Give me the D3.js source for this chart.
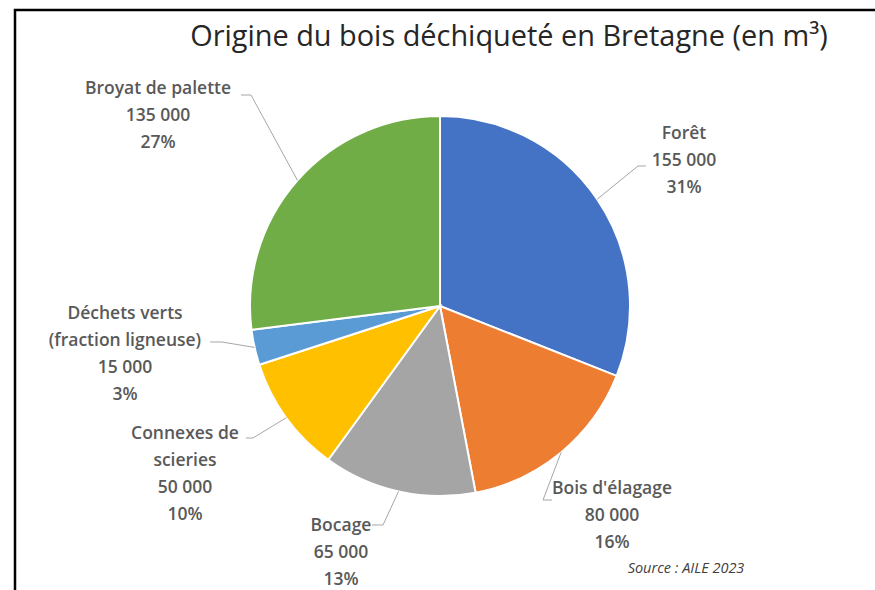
<!DOCTYPE html>
<title>Origine du bois déchiqueté</title>
<body>
<script src="https://cdn.jsdelivr.net/npm/d3@7"></script>
<style>
  html, body { margin: 0; background: #fff; overflow: hidden; }
  text { font-family: "Open Sans", "Noto Sans", sans-serif; }
</style>
<script>
  // data
  var categories = ["Forêt", "Bois d'élagage", "Bocage", "Connexes de scieries",
                    "Déchets verts (fraction ligneuse)", "Broyat de palette"];
  var values = [155000, 80000, 65000, 50000, 15000, 135000];
  var labelLines = [["Forêt"], ["Bois d'élagage"], ["Bocage"], ["Connexes de", "scieries"],
                    ["Déchets verts", "(fraction ligneuse)"], ["Broyat de palette"]];
  var colors = ["#4472C4", "#ED7D31", "#A5A5A5", "#FFC000", "#5B9BD5", "#70AD47"];

  // where each label block sits (centre x, first line y) and its elbow point
  var labelPos = [
    { x: 684, y: 133, elbow: [638, 166], end: [646, 166] },
    { x: 612, y: 488, elbow: [543, 500], end: [552, 500] },
    { x: 341, y: 525, elbow: [383, 525], end: [372, 525] },
    { x: 185, y: 433, elbow: [253, 438], end: [246, 438] },
    { x: 125, y: 313, elbow: [222, 342], end: [210, 342] },
    { x: 158, y: 88,  elbow: [251, 95],  end: [241, 95] }
  ];

  var width = 875, height = 590,
      cx = 440, cy = 306, r = 190,
      lineH = 27;

  var total = d3.sum(values);
  var fmt = function(v) { return d3.format(",")(v).replace(/,/g, " "); };

  var svg = d3.select("body").append("svg")
    .attr("width", width)
    .attr("height", height);

  // frame (only left and top edges show in the picture)
  svg.append("path")
    .attr("d", "M15,590 L15,10 L875,10")
    .attr("fill", "none")
    .attr("stroke", "#000")
    .attr("stroke-width", 2.5);

  var title = svg.append("text")
    .attr("x", 509)
    .attr("y", 46)
    .attr("text-anchor", "middle")
    .attr("fill", "#262626")
    .style("font-size", "28px")
    .text("Origine du bois déchiqueté en Bretagne (en m³)");
  // squeeze the title to the width it has in the picture
  var tw = title.node().getComputedTextLength();
  title.style("font-size", (28 * 638 / tw) + "px");

  var pie = d3.pie().sort(null).value(function(d) { return d; });
  var arcs = pie(values);
  var arc = d3.arc().innerRadius(0).outerRadius(r);

  var g = svg.append("g").attr("transform", "translate(" + [cx, cy] + ")");

  g.selectAll("path.slice")
    .data(arcs)
    .enter().append("path")
    .attr("class", "slice")
    .attr("d", arc)
    .attr("fill", function(d, i) { return colors[i]; })
    .attr("stroke", "#fff")
    .attr("stroke-width", 2);

  // leader lines from the rim of each slice to its label
  var rim = d3.arc().innerRadius(r).outerRadius(r);
  svg.selectAll("polyline.leader")
    .data(arcs)
    .enter().append("polyline")
    .attr("class", "leader")
    .attr("fill", "none")
    .attr("stroke", "#A6A6A6")
    .attr("stroke-width", 1)
    .attr("points", function(d, i) {
      var c = rim.centroid(d), p = labelPos[i];
      return [[cx + c[0], cy + c[1]], p.elbow, p.end].map(function(q) { return q.join(","); }).join(" ");
    });

  var labels = svg.selectAll("text.lab")
    .data(arcs)
    .enter().append("text")
    .attr("class", "lab")
    .attr("text-anchor", "middle")
    .attr("fill", "#595959")
    .style("font-size", "17.5px")
    .style("font-weight", 600);

  labels.each(function(d, i) {
    var lines = labelLines[i].concat([fmt(values[i]), Math.round(values[i] / total * 100) + "%"]);
    var t = d3.select(this), p = labelPos[i];
    lines.forEach(function(s, k) {
      t.append("tspan")
        .attr("x", p.x)
        .attr("y", p.y + k * lineH)
        .attr("dy", "0.35em")
        .text(s);
    });
  });

  svg.append("text")
    .attr("x", 686)
    .attr("y", 568)
    .attr("dy", "0.35em")
    .attr("text-anchor", "middle")
    .attr("fill", "#404040")
    .style("font-size", "14.5px")
    .style("font-style", "italic")
    .text("Source : AILE 2023");
</script>
</body>
